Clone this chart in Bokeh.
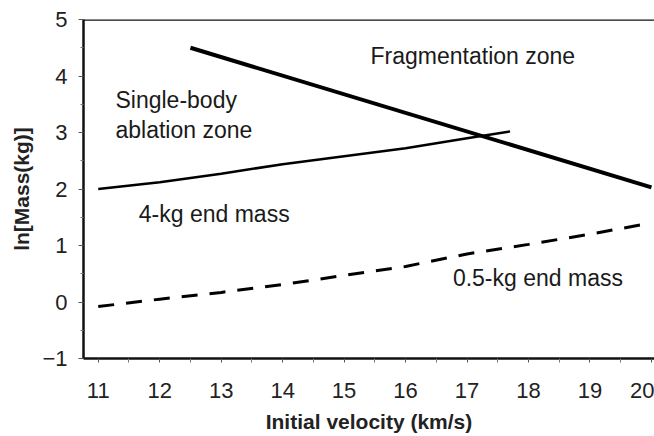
from bokeh.plotting import figure
from bokeh.embed import file_html
from bokeh.resources import INLINE
from bokeh.models import FixedTicker, Range1d, Span
from bokeh.core.properties import value

# Data
frag_x = [12.5, 20.0]
frag_y = [4.5, 2.03]

end4_x = [11, 12, 13, 14, 15, 16, 17, 17.7]
end4_y = [2.0, 2.12, 2.27, 2.44, 2.58, 2.72, 2.9, 3.02]

end05_x = [11, 12, 13, 14, 15, 16, 17, 18, 19, 20]
end05_y = [-0.08, 0.05, 0.17, 0.31, 0.47, 0.63, 0.85, 1.02, 1.2, 1.4]

x_ticks = [11, 12, 13, 14, 15, 16, 17, 18, 19, 20]
y_ticks = [-1, 0, 1, 2, 3, 4, 5]

labels_text = ["Fragmentation zone", "Single-body", "ablation zone", "4-kg end mass", "0.5-kg end mass"]
labels_x = [15.43, 11.28, 11.28, 11.66, 16.77]
labels_y = [4.36, 3.58, 3.05, 1.56, 0.42]

FONT = "Liberation Sans"

p = figure(width=654, height=436, output_backend="svg", toolbar_location=None,
           x_range=Range1d(10.76, 20.05), y_range=Range1d(-1, 5),
           min_border_left=83, min_border_top=19, min_border_bottom=78, min_border_right=0)

p.background_fill_color = "white"
p.border_fill_color = "white"
p.outline_line_color = None
p.xgrid.visible = False
p.ygrid.visible = False

# top frame line (the right side of the original frame is cut off)
p.add_layout(Span(location=5, dimension="width", line_color="#111111", line_width=2.5))

# axes
p.xaxis.ticker = FixedTicker(ticks=x_ticks, minor_ticks=[t + 0.5 for t in x_ticks[:-1]] + [10.5, 20.5])
p.yaxis.ticker = FixedTicker(ticks=y_ticks, minor_ticks=[t + 0.5 for t in y_ticks[:-1]])
for ax in (p.xaxis[0], p.yaxis[0]):
    ax.axis_line_width = 2.5
    ax.axis_line_color = "#111111"
    ax.major_tick_line_color = "#555555"
    ax.minor_tick_line_color = "#777777"
    ax.major_tick_in = 0
    ax.minor_tick_in = 0
    ax.major_label_text_font = FONT
    ax.major_label_text_font_size = "22px"
    ax.major_label_text_color = "#222222"
    ax.axis_label_text_font = FONT
    ax.axis_label_text_font_size = "21px"
    ax.axis_label_text_font_style = "bold"
    ax.axis_label_text_color = "#222222"

p.xaxis.major_tick_out = 4
p.xaxis.minor_tick_out = 4
p.xaxis.major_label_standoff = 20
p.xaxis.axis_label = "Initial velocity (km/s)"
p.xaxis.axis_label_standoff = 9

p.yaxis.major_tick_out = 5
p.yaxis.minor_tick_out = 3
p.yaxis.major_label_standoff = 11
p.yaxis.axis_label = "ln[Mass(kg)]"
p.yaxis.axis_label_standoff = 6

# lines
p.line(frag_x, frag_y, line_color="black", line_width=4)
p.line(end4_x, end4_y, line_color="black", line_width=2.5)
p.line(end05_x, end05_y, line_color="black", line_width=3, line_dash="16 12")

# annotations
p.text(x=labels_x, y=labels_y, text=labels_text, text_font=value(FONT),
       text_font_size="23px", text_color="#1a1a1a", text_baseline="alphabetic", text_align="left")

open("out.html", "w").write(file_html(p, INLINE))
